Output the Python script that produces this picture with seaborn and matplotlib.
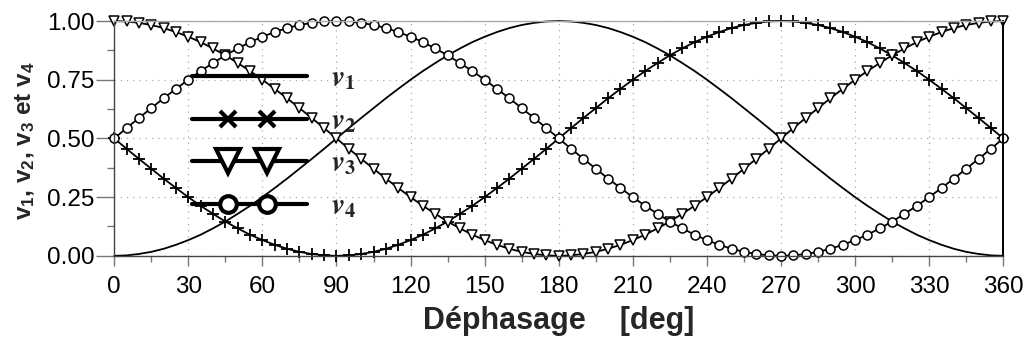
import matplotlib
matplotlib.use("Agg")
import numpy as np
import matplotlib.pyplot as plt
from matplotlib.lines import Line2D
from matplotlib.legend_handler import HandlerLine2DCompound
from matplotlib.ticker import MultipleLocator
from matplotlib.font_manager import FontProperties
import seaborn as sns
import pandas as pd

# ---- data (every 5 degrees) ----
phase_deg = list(range(0, 365, 5))

v1 = [0.000, 0.002, 0.008, 0.017, 0.030, 0.047, 0.067, 0.090, 0.117, 0.146,
      0.179, 0.213, 0.250, 0.289, 0.329, 0.371, 0.413, 0.456, 0.500, 0.544,
      0.587, 0.629, 0.671, 0.711, 0.750, 0.787, 0.821, 0.854, 0.883, 0.910,
      0.933, 0.953, 0.970, 0.983, 0.992, 0.998, 1.000,
      0.998, 0.992, 0.983, 0.970, 0.953, 0.933, 0.910, 0.883, 0.854, 0.821,
      0.787, 0.750, 0.711, 0.671, 0.629, 0.587, 0.544, 0.500, 0.456, 0.413,
      0.371, 0.329, 0.289, 0.250, 0.213, 0.179, 0.146, 0.117, 0.090, 0.067,
      0.047, 0.030, 0.017, 0.008, 0.002, 0.000]

v2 = [0.500, 0.456, 0.413, 0.371, 0.329, 0.289, 0.250, 0.213, 0.179, 0.146,
      0.117, 0.090, 0.067, 0.047, 0.030, 0.017, 0.008, 0.002, 0.000,
      0.002, 0.008, 0.017, 0.030, 0.047, 0.067, 0.090, 0.117, 0.146, 0.179,
      0.213, 0.250, 0.289, 0.329, 0.371, 0.413, 0.456, 0.500,
      0.544, 0.587, 0.629, 0.671, 0.711, 0.750, 0.787, 0.821, 0.854, 0.883,
      0.910, 0.933, 0.953, 0.970, 0.983, 0.992, 0.998, 1.000,
      0.998, 0.992, 0.983, 0.970, 0.953, 0.933, 0.910, 0.883, 0.854, 0.821,
      0.787, 0.750, 0.711, 0.671, 0.629, 0.587, 0.544, 0.500]

v3 = [1.000, 0.998, 0.992, 0.983, 0.970, 0.953, 0.933, 0.910, 0.883, 0.854,
      0.821, 0.787, 0.750, 0.711, 0.671, 0.629, 0.587, 0.544, 0.500, 0.456,
      0.413, 0.371, 0.329, 0.289, 0.250, 0.213, 0.179, 0.146, 0.117, 0.090,
      0.067, 0.047, 0.030, 0.017, 0.008, 0.002, 0.000,
      0.002, 0.008, 0.017, 0.030, 0.047, 0.067, 0.090, 0.117, 0.146, 0.179,
      0.213, 0.250, 0.289, 0.329, 0.371, 0.413, 0.456, 0.500, 0.544, 0.587,
      0.629, 0.671, 0.711, 0.750, 0.787, 0.821, 0.854, 0.883, 0.910, 0.933,
      0.953, 0.970, 0.983, 0.992, 0.998, 1.000]

v4 = [0.500, 0.544, 0.587, 0.629, 0.671, 0.711, 0.750, 0.787, 0.821, 0.854,
      0.883, 0.910, 0.933, 0.953, 0.970, 0.983, 0.992, 0.998, 1.000,
      0.998, 0.992, 0.983, 0.970, 0.953, 0.933, 0.910, 0.883, 0.854, 0.821,
      0.787, 0.750, 0.711, 0.671, 0.629, 0.587, 0.544, 0.500,
      0.456, 0.413, 0.371, 0.329, 0.289, 0.250, 0.213, 0.179, 0.146, 0.117,
      0.090, 0.067, 0.047, 0.030, 0.017, 0.008, 0.002, 0.000,
      0.002, 0.008, 0.017, 0.030, 0.047, 0.067, 0.090, 0.117, 0.146, 0.179,
      0.213, 0.250, 0.289, 0.329, 0.371, 0.413, 0.456, 0.500]

legend_labels = [r"$\mathbfit{v}_\mathbf{1}$", r"$\mathbfit{v}_\mathbf{2}$",
                 r"$\mathbfit{v}_\mathbf{3}$", r"$\mathbfit{v}_\mathbf{4}$"]
x_ticks = list(range(0, 361, 30))
y_ticks = [0.00, 0.25, 0.50, 0.75, 1.00]
x_label = "Déphasage    [deg]"
y_label = r"$\mathbf{v_1}$, $\mathbf{v_2}$, $\mathbf{v_3}$ et $\mathbf{v_4}$"

df = pd.DataFrame({"phase": phase_deg, "v1": v1, "v2": v2, "v3": v3, "v4": v4})

# ---- style ----
sns.set_theme(style="white")
plt.rcParams["font.family"] = ["Liberation Sans", "DejaVu Sans"]
plt.rcParams["mathtext.fontset"] = "custom"
plt.rcParams["mathtext.rm"] = "Liberation Sans"
plt.rcParams["mathtext.bf"] = "Liberation Sans:bold"
plt.rcParams["mathtext.it"] = "Liberation Sans:italic"

fig = plt.figure(figsize=(10.29, 3.5), dpi=100)
ax = fig.add_axes([0.111, 0.269, 0.864, 0.671])

lw = 1.3
common = dict(ax=ax, color="black", lw=lw, clip_on=False)
sns.lineplot(data=df, x="phase", y="v1", **common)
sns.lineplot(data=df, x="phase", y="v2", marker="+", markersize=8,
             markeredgewidth=1.3, markeredgecolor="black", **common)
sns.lineplot(data=df, x="phase", y="v3", marker="v", markersize=6.5,
             markerfacecolor="white", markeredgecolor="black",
             markeredgewidth=1.1, **common)
sns.lineplot(data=df, x="phase", y="v4", marker="o", markersize=6.5,
             markerfacecolor="white", markeredgecolor="black",
             markeredgewidth=1.1, **common)

ax.set_xlim(0, 360)
ax.set_ylim(0, 1)
ax.set_xticks(x_ticks)
ax.set_xticklabels([str(t) for t in x_ticks])
ax.set_yticks(y_ticks)
ax.set_yticklabels([f"{t:.2f}" for t in y_ticks])
ax.xaxis.set_minor_locator(MultipleLocator(15))
ax.yaxis.set_minor_locator(MultipleLocator(0.125))
ax.tick_params(axis="x", which="major", direction="out", length=7.5,
               width=1.0, color="#777777", labelsize=17.5, pad=7,
               labelcolor="black", bottom=True)
ax.tick_params(axis="x", which="minor", direction="out", length=4.5,
               width=1.0, color="#777777", bottom=True)
ax.tick_params(axis="y", which="major", direction="out", length=13,
               width=1.0, color="#777777", labelsize=17.5, pad=1,
               labelcolor="black", left=True)
ax.tick_params(axis="y", which="minor", direction="out", length=5,
               width=1.0, color="#777777", left=True)

ax.grid(True, which="major", linestyle=(0, (1, 4)), color="#aaaaaa", lw=0.9)

for side in ["left", "bottom"]:
    ax.spines[side].set_color("#444444")
    ax.spines[side].set_linewidth(1.0)
ax.spines["right"].set_color("black")
ax.spines["right"].set_linewidth(1.4)
ax.spines["top"].set_color("#aaaaaa")
ax.spines["top"].set_linewidth(1.0)

ax.set_xlabel(x_label, fontsize=22, fontweight="bold")
ax.xaxis.set_label_coords(0.5, -0.213)
ax.xaxis.label.set_va("top")
ax.set_ylabel(y_label, fontsize=17.5, fontweight="bold",
              math_fontfamily="custom")
ax.yaxis.set_label_coords(-0.0866, 0.49)


# ---- legend ----
class TwoMarkerHandler(HandlerLine2DCompound):
    def get_xdata(self, legend, xdescent, ydescent, width, height, fontsize):
        xdata = np.array([-xdescent, -xdescent + width])
        xdata_marker = -xdescent + width * np.array([0.31, 0.65])
        return xdata, xdata_marker


handles = [
    Line2D([], [], color="black", lw=3),
    Line2D([], [], color="black", lw=3, marker="x", markersize=11,
           markeredgewidth=3),
    Line2D([], [], color="black", lw=3, marker="v", markersize=17,
           markerfacecolor="white", markeredgewidth=3),
    Line2D([], [], color="black", lw=3, marker="o", markersize=12,
           markerfacecolor="white", markeredgewidth=3),
]
leg_prop = FontProperties(family="Liberation Serif", size=21,
                          math_fontfamily="stix")
leg = ax.legend(handles, legend_labels, loc="upper left",
                bbox_to_anchor=(0.0877, 0.81), frameon=False, numpoints=2,
                handler_map={Line2D: TwoMarkerHandler()},
                handlelength=3.95, handletextpad=0.8, labelspacing=0.56,
                prop=leg_prop, borderpad=0, borderaxespad=0)

fig.savefig("out.png", dpi=100)
